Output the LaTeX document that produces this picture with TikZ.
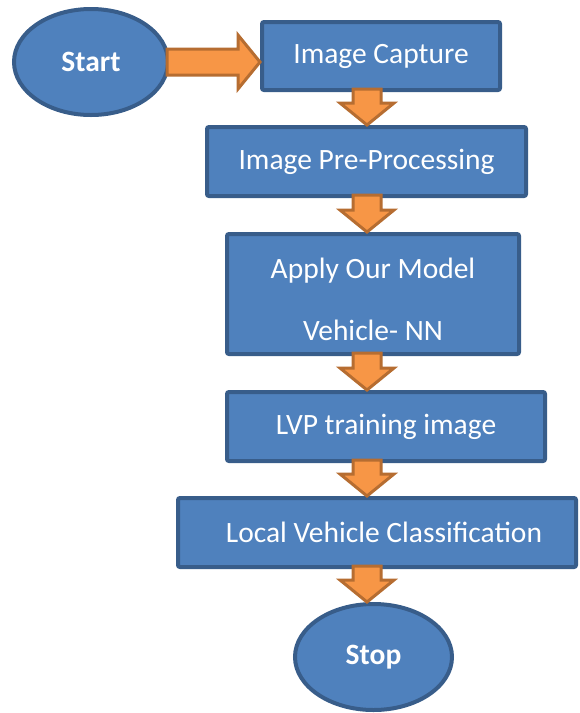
\documentclass[tikz,border=0pt]{standalone}
\usepackage{fontspec}
\setmainfont{Carlito}
\usetikzlibrary{shapes.geometric,calc}
\definecolor{boxfill}{HTML}{4F81BD}
\definecolor{boxline}{HTML}{385D8A}
\definecolor{arrfill}{HTML}{F79646}
\definecolor{arrline}{HTML}{B66D31}
\tikzset{
  stepbox/.style={rectangle, rounded corners=2pt, fill=boxfill, draw=boxline, line width=4pt, text=white, font=\fontsize{29.5}{62}\selectfont, align=center, inner sep=0pt},
  boxtext/.style={text=white, font=\fontsize{29.5}{62}\selectfont, align=center, inner sep=0pt},
  terminal/.style={ellipse, fill=boxfill, draw=boxline, line width=4pt, text=white, font=\fontsize{29.5}{34}\selectfont\bfseries, inner sep=0pt},
  blockarrow/.style={fill=arrfill, draw=arrline, line width=3pt, line join=miter},
}
\newcommand{\downarrowblock}[2]{%
  \draw[blockarrow] ($(#1.south -| col)+(-14,-3)$) -- ($(#2.north -| col)+(-14,-22)$) -- ($(#2.north -| col)+(-27,-22)$) -- (#2.north -| col) -- ($(#2.north -| col)+(27,-22)$) -- ($(#2.north -| col)+(14,-22)$) -- ($(#1.south -| col)+(14,-3)$) -- cycle;}
\begin{document}
\begin{tikzpicture}[x=1pt,y=-1pt]
\useasboundingbox (0,0) rectangle (579,713);
\coordinate (col) at (367,0);
\node[terminal, minimum width=154pt, minimum height=106pt] (start) at (91,62) {Start};
\node[stepbox, minimum width=238pt, minimum height=68pt] (cap) at (381,56) {Image Capture};
\node[stepbox, minimum width=319pt, minimum height=69pt] (pre) at (366.5,161.5) {Image Pre-Processing};
\node[stepbox, minimum width=292pt, minimum height=120pt] (apply) at (373,294) {};
\node[boxtext] (applytext) at (373,299) {Apply Our Model\\Vehicle- NN};
\node[stepbox, minimum width=318pt, minimum height=69pt] (lvp) at (386,426.5) {LVP training image};
\node[stepbox, minimum width=398pt, minimum height=69pt] (local) at (377,532.5) {};
\node[boxtext] (localtext) at (384,532.5) {Local Vehicle Classification};
\node[terminal, minimum width=157pt, minimum height=106pt] (stop) at (373.5,657) {Stop};
% horizontal block arrow
\draw[blockarrow] ($(start.east)+(-3,-13)$) -- ($(cap.west |- start.east)+(-22,-13)$) -- ($(cap.west |- start.east)+(-22,-27)$) -- (cap.west |- start.east) -- ($(cap.west |- start.east)+(-22,27)$) -- ($(cap.west |- start.east)+(-22,13)$) -- ($(start.east)+(-3,13)$) -- cycle;
\downarrowblock{cap}{pre}
\downarrowblock{pre}{apply}
\downarrowblock{apply}{lvp}
\downarrowblock{lvp}{local}
\downarrowblock{local}{stop}
\end{tikzpicture}
\end{document}
